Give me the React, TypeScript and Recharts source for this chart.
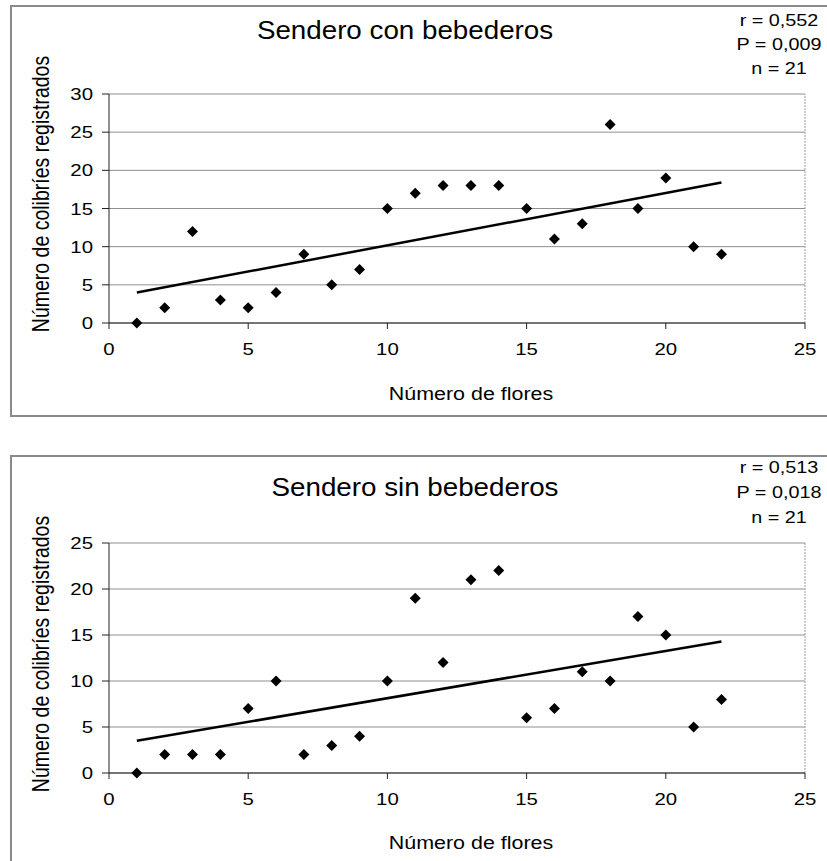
import { ScatterChart, Scatter, XAxis, YAxis, CartesianGrid, ReferenceLine } from "recharts";

// Número de flores (x) and colibríes registrados (y) for each trail
const flores = [1, 2, 3, 4, 5, 6, 7, 8, 9, 10, 11, 12, 13, 14, 15, 16, 17, 18, 19, 20, 21, 22];
const colibriesCon = [0, 2, 12, 3, 2, 4, 9, 5, 7, 15, 17, 18, 18, 18, 15, 11, 13, 26, 15, 19, 10, 9];
const colibriesSin = [0, 2, 2, 2, 7, 10, 2, 3, 4, 10, 19, 12, 21, 22, 6, 7, 11, 10, 17, 15, 5, 8];

// regression line end points
const tendenciaX = [1, 22];
const tendenciaConY = [4.0, 18.4];
const tendenciaSinY = [3.5, 14.3];

const xTicks = [0, 5, 10, 15, 20, 25];
const yTicksCon = [0, 5, 10, 15, 20, 25, 30];
const yTicksSin = [0, 5, 10, 15, 20, 25];

const statsCon = ["r = 0,552", "P = 0,009", "n = 21"];
const statsSin = ["r = 0,513", "P = 0,018", "n = 21"];

const FONT = "'Liberation Sans', Arial, sans-serif";

const Diamond = (props: any) => {
  const { cx, cy } = props;
  if (cx == null || cy == null) return null;
  return <polygon points={`${cx},${cy - 5.5} ${cx + 5.5},${cy} ${cx},${cy + 5.5} ${cx - 5.5},${cy}`} fill="#000" />;
};

const TickX = (props: any) => {
  const { x, y, payload } = props;
  return (
    <g transform={`translate(${x},${y})`}>
      <text transform="scale(1.2,1)" textAnchor="middle" dy="0.71em" fontSize={17} fill="#000" fontFamily={FONT}>
        {payload.value}
      </text>
    </g>
  );
};

const TickY = (props: any) => {
  const { x, y, payload } = props;
  return (
    <g transform={`translate(${x},${y})`}>
      <text transform="scale(1.2,1)" textAnchor="end" dy="0.355em" fontSize={17} fill="#000" fontFamily={FONT}>
        {payload.value}
      </text>
    </g>
  );
};

interface PanelProps {
  top: number;
  height: number;
  marginTop: number;
  marginBottom: number;
  values: number[];
  yTicks: number[];
  trendY: number[];
}

function Panel({ top, height, marginTop, marginBottom, values, yTicks, trendY }: PanelProps) {
  const puntos = flores.map((f, i) => ({ x: f, y: values[i] }));
  const yMax = yTicks[yTicks.length - 1];
  return (
    <div style={{ position: "absolute", left: 0, top }}>
      <ScatterChart width={827} height={height} margin={{ top: marginTop, right: 22, left: 49, bottom: marginBottom }}>
        <CartesianGrid vertical={false} stroke="#8f8f8f" />
        <XAxis
          type="number"
          dataKey="x"
          domain={[0, 25]}
          ticks={xTicks}
          height={40}
          tick={<TickX />}
          tickSize={6}
          tickMargin={14}
          axisLine={{ stroke: "#222" }}
          tickLine={{ stroke: "#222" }}
        />
        <YAxis
          type="number"
          dataKey="y"
          domain={[0, yMax]}
          ticks={yTicks}
          width={60}
          tick={<TickY />}
          tickSize={7}
          tickMargin={9}
          axisLine={{ stroke: "#222" }}
          tickLine={{ stroke: "#222" }}
        />
        <ReferenceLine x={25} stroke="#9a9a9a" strokeDasharray="2 1" />
        <ReferenceLine
          segment={[
            { x: tendenciaX[0], y: trendY[0] },
            { x: tendenciaX[1], y: trendY[1] },
          ]}
          stroke="#000"
          strokeWidth={2.5}
          ifOverflow="visible"
        />
        <Scatter data={puntos} shape={<Diamond />} isAnimationActive={false} />
      </ScatterChart>
    </div>
  );
}

const textBase: React.CSSProperties = {
  position: "absolute",
  fontFamily: FONT,
  color: "#000",
  whiteSpace: "nowrap",
  lineHeight: 1,
};

function Centered({ x, y, size, sx, children }: { x: number; y: number; size: number; sx: number; children: any }) {
  return (
    <div style={{ ...textBase, left: x, top: y, fontSize: size, transform: `translate(-50%, -50%) scale(${sx}, 1)` }}>
      {children}
    </div>
  );
}

function YLabel({ x, y }: { x: number; y: number }) {
  return (
    <div
      style={{
        ...textBase,
        left: x,
        top: y,
        fontSize: 19.5,
        transform: "translate(-50%, -50%) rotate(-90deg) scale(1, 1.2)",
      }}
    >
      Número de colibríes registrados
    </div>
  );
}

export default function App() {
  return (
    <div style={{ position: "absolute", left: 0, top: 0, width: 827, height: 861, overflow: "hidden", background: "#fff" }}>
      {/* frames */}
      <div style={{ position: "absolute", left: 10, top: 5, width: 830, height: 408, border: "2px solid #8a8a8a" }} />
      <div style={{ position: "absolute", left: 10, top: 455, width: 830, height: 440, border: "2px solid #8a8a8a" }} />

      <Panel top={0} height={420} marginTop={94} marginBottom={57} values={colibriesCon} yTicks={yTicksCon} trendY={tendenciaConY} />
      <Panel top={440} height={421} marginTop={103} marginBottom={48} values={colibriesSin} yTicks={yTicksSin} trendY={tendenciaSinY} />

      <Centered x={405} y={30} size={25} sx={1.11}>Sendero con bebederos</Centered>
      <Centered x={415} y={487} size={25} sx={1.11}>Sendero sin bebederos</Centered>

      {statsCon.map((s, i) => (
        <Centered key={s} x={779} y={20 + i * 24} size={16.5} sx={1.2}>{s}</Centered>
      ))}
      {statsSin.map((s, i) => (
        <Centered key={s} x={779} y={467 + i * 25} size={16.5} sx={1.2}>{s}</Centered>
      ))}

      <Centered x={471} y={394} size={18} sx={1.19}>Número de flores</Centered>
      <Centered x={471} y={843} size={18} sx={1.19}>Número de flores</Centered>

      <YLabel x={41} y={194} />
      <YLabel x={41} y={654} />
    </div>
  );
}
